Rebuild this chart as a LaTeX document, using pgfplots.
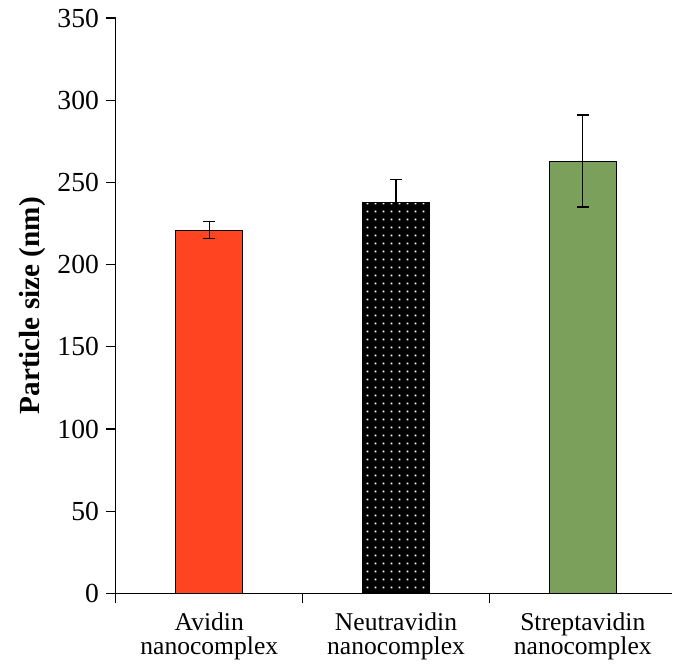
\documentclass[border=0pt]{standalone}
\usepackage{fontspec}
\setmainfont{Liberation Serif}
\usepackage{pgfplots}
\pgfplotsset{compat=1.18}
\usetikzlibrary{patterns.meta}

\definecolor{avidred}{HTML}{FF4422}
\definecolor{strepgreen}{HTML}{7AA05C}

\tikzdeclarepattern{
  name=whitedots,
  type=uncolored,
  bottom left={(0pt,0pt)},
  top right={(3.8pt,3.8pt)},
  tile size={(3.8pt,3.8pt)},
  code={\fill (1.4pt,1.4pt) rectangle (2.3pt,2.3pt);}
}

\begin{document}
\begin{tikzpicture}
\begin{axis}[
    scale only axis,
    width=278.5pt,
    height=288pt,
    xmin=-0.5, xmax=2.48,
    ymin=0, ymax=350,
    ytick distance=50,
    axis x line*=bottom,
    axis y line*=left,
    axis line style={-, black, line width=0.6pt},
    xtick={0,1,2},
    xticklabels={{Avidin\\nanocomplex},{Neutravidin\\nanocomplex},{Streptavidin\\nanocomplex}},
    x tick label style={align=center, font=\fontsize{12.8}{12.3}\selectfont, yshift=-1pt},
    y tick label style={font=\fontsize{13.8}{14}\selectfont},
    /pgf/number format/assume math mode=true,
    major x tick style={draw=none},
    minor xtick={-0.5,0.5,1.5},
    minor x tick style={black, line width=0.6pt},
    minor tick length=5pt,
    major tick length=5pt,
    tick align=outside,
    ytick style={black, line width=0.6pt},
    ylabel={\bfseries Particle size (nm)},
    ylabel style={font=\fontsize{14.6}{15}\selectfont, yshift=-1pt},
]
\addplot[ybar, bar shift=0pt, bar width=0.36, fill=avidred, draw=black, line width=0.5pt,
    error bars/.cd, y dir=both, y explicit,
    error bar style={black, line width=0.6pt},
    error mark options={rotate=90, mark size=3pt, black, line width=0.6pt}]
    coordinates {(0,221) +- (0,5.2)};
\addplot[ybar, bar shift=0pt, bar width=0.36, fill=black, draw=black, line width=0.5pt,
    postaction={pattern=whitedots, pattern color=white},
    error bars/.cd, y dir=both, y explicit,
    error bar style={black, line width=0.6pt},
    error mark options={rotate=90, mark size=3pt, black, line width=0.6pt}]
    coordinates {(1,238) +- (0,13.6)};
\addplot[ybar, bar shift=0pt, bar width=0.36, fill=strepgreen, draw=black, line width=0.5pt,
    error bars/.cd, y dir=both, y explicit,
    error bar style={black, line width=0.6pt},
    error mark options={rotate=90, mark size=3pt, black, line width=0.6pt}]
    coordinates {(2,263) +- (0,28)};
\end{axis}
\path ([xshift=-58pt,yshift=-32pt]current axis.south west) rectangle ([yshift=9pt]current axis.north east);
\end{tikzpicture}
\end{document}
